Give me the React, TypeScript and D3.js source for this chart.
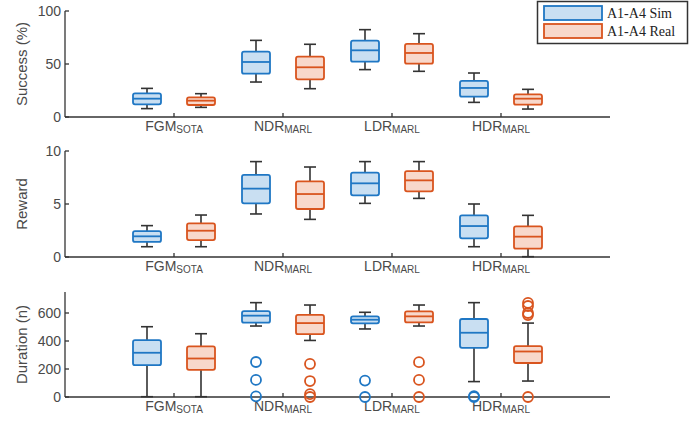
import React from 'react';
import * as d3 from 'd3';

// categories: [main, subscript]
const categories: [string, string][] = [
  ['FGM', 'SOTA'],
  ['NDR', 'MARL'],
  ['LDR', 'MARL'],
  ['HDR', 'MARL'],
];

// box stats per category: [lowWhisker, q1, median, q3, highWhisker]
const successSim = [[7.9, 12, 17.3, 22.3, 27], [33, 40.9, 51.9, 61.6, 72.3], [44.7, 52.2, 62.9, 72, 82.4], [13.8, 19.2, 27.4, 34, 41.5]];
const successReal = [[9.1, 11.3, 15.4, 18.5, 22], [26.7, 35.5, 46.9, 56.9, 68.6], [43.1, 50.3, 60.4, 68.9, 78.6], [7.5, 11.6, 17.3, 21.4, 26.1]];

const rewardSim = [[0.97, 1.42, 1.95, 2.45, 2.96], [4.06, 5.06, 6.45, 7.74, 9.0], [5.06, 5.82, 6.95, 7.96, 9.0], [0.97, 1.76, 2.92, 3.93, 5.0]];
const rewardReal = [[0.97, 1.6, 2.48, 3.18, 3.96], [3.55, 4.53, 5.94, 7.14, 8.49], [5.53, 6.2, 7.23, 8.1, 9.0], [0.03, 0.79, 1.92, 2.89, 3.93]];

const durationSim = [[2, 227, 316, 406, 502], [507, 531, 581, 614, 674], [486, 526, 552, 576, 605], [110, 351, 459, 557, 674]];
const durationReal = [[2, 194, 275, 361, 452], [404, 449, 528, 586, 657], [507, 533, 576, 612, 657], [114, 243, 325, 364, 528]];
const durationSimOut = [[], [250, 122, 5], [117, 0], [6, 0]];
const durationRealOut = [[], [236, 114, 20, 0], [249, 122, 0], [672, 650, 600, 585, 0]];

const successTicks = [0, 50, 100];
const rewardTicks = [0, 5, 10];
const durationTicks = [0, 200, 400, 600];

const seriesNames = ['A1-A4 Sim', 'A1-A4 Real'];

const BLUE = '#1f77c4';
const BLUE_FILL = '#c9dff2';
const ORANGE = '#d9541e';
const ORANGE_FILL = '#f8d8cb';
const AXIS = '#333333';
const TEXT = '#4a4a4a';
const SANS = '"Liberation Sans", Arial, sans-serif';

const x = d3.scaleLinear().domain([0, 5]).range([65, 610]);
const boxW = 28;
const offset = 27;

interface PanelProps {
  label: string;
  yTop: number;
  yBottom: number;
  domainMax: number;
  ticks: number[];
  sim: number[][];
  real: number[][];
  simOut?: number[][];
  realOut?: number[][];
}

const Box: React.FC<{ cx: number; s: number[]; y: d3.ScaleLinear<number, number>; stroke: string; fill: string; out: number[] }> = ({ cx, s, y, stroke, fill, out }) => {
  const [lo, q1, med, q3, hi] = s;
  const cap = 6;
  return (
    <g>
      <line x1={cx} x2={cx} y1={y(hi)} y2={y(q3)} stroke={AXIS} strokeWidth={1.6} />
      <line x1={cx} x2={cx} y1={y(q1)} y2={y(lo)} stroke={AXIS} strokeWidth={1.6} />
      <line x1={cx - cap} x2={cx + cap} y1={y(hi)} y2={y(hi)} stroke={AXIS} strokeWidth={1.6} />
      <line x1={cx - cap} x2={cx + cap} y1={y(lo)} y2={y(lo)} stroke={AXIS} strokeWidth={1.6} />
      <rect x={cx - boxW / 2} y={y(q3)} width={boxW} height={y(q1) - y(q3)} rx={2} fill={fill} stroke={stroke} strokeWidth={1.8} />
      <line x1={cx - boxW / 2} x2={cx + boxW / 2} y1={y(med)} y2={y(med)} stroke={stroke} strokeWidth={1.8} />
      {out.map((v, i) => (
        <circle key={i} cx={cx} cy={y(v)} r={5} fill="none" stroke={stroke} strokeWidth={1.8} />
      ))}
    </g>
  );
};

const Panel: React.FC<PanelProps> = ({ label, yTop, yBottom, domainMax, ticks, sim, real, simOut, realOut }) => {
  const y = d3.scaleLinear().domain([0, domainMax]).range([yBottom, yTop]);
  const [x0, x1] = x.range();
  return (
    <g>
      {/* axes */}
      <line x1={x0} x2={x0} y1={yTop} y2={yBottom} stroke={AXIS} strokeWidth={1.3} />
      <line x1={x0} x2={x1} y1={yBottom} y2={yBottom} stroke={AXIS} strokeWidth={1.3} />
      {ticks.map((t) => (
        <g key={t}>
          <line x1={x0} x2={x0 + 4} y1={y(t)} y2={y(t)} stroke={AXIS} strokeWidth={1.3} />
          <text x={x0 - 4} y={y(t)} dy="0.35em" textAnchor="end" fontSize={14} fill={TEXT} fontFamily={SANS}>{t}</text>
        </g>
      ))}
      {categories.map((c, i) => (
        <g key={c[0]}>
          <line x1={x(i + 1)} x2={x(i + 1)} y1={yBottom} y2={yBottom - 4} stroke={AXIS} strokeWidth={1.3} />
          <text x={x(i + 1)} y={yBottom + 14} textAnchor="middle" fontSize={14} fill={TEXT} fontFamily={SANS}>
            <tspan>{c[0]}</tspan>
            <tspan fontSize={10} dy={2}>{c[1]}</tspan>
          </text>
        </g>
      ))}
      <text transform={`translate(27,${(yTop + yBottom) / 2}) rotate(-90)`} textAnchor="middle" fontSize={15} fill={TEXT} fontFamily={SANS}>{label}</text>
      {categories.map((c, i) => (
        <g key={'b' + i}>
          <Box cx={x(i + 1) - offset} s={sim[i]} y={y} stroke={BLUE} fill={BLUE_FILL} out={simOut ? simOut[i] : []} />
          <Box cx={x(i + 1) + offset} s={real[i]} y={y} stroke={ORANGE} fill={ORANGE_FILL} out={realOut ? realOut[i] : []} />
        </g>
      ))}
    </g>
  );
};

const App: React.FC = () => {
  return (
    <svg width={690} height={421} style={{ position: 'absolute', left: 0, top: 0, background: '#fff' }}>
      <Panel label="Success (%)" yTop={11} yBottom={117} domainMax={100} ticks={successTicks} sim={successSim} real={successReal} />
      <Panel label="Reward" yTop={151} yBottom={257} domainMax={10} ticks={rewardTicks} sim={rewardSim} real={rewardReal} />
      <Panel label="Duration (n)" yTop={292} yBottom={397} domainMax={750} ticks={durationTicks} sim={durationSim} real={durationReal} simOut={durationSimOut} realOut={durationRealOut} />
      {/* legend */}
      <g>
        <rect x={537.5} y={1.5} width={150} height={42} fill="#fff" stroke="#333" strokeWidth={1.5} />
        {seriesNames.map((n, i) => (
          <g key={n}>
            <rect x={544} y={6 + i * 18} width={58} height={14} fill={i === 0 ? BLUE_FILL : ORANGE_FILL} stroke={i === 0 ? BLUE : ORANGE} strokeWidth={1.8} />
            <text x={607} y={13 + i * 18} dy="0.35em" fontSize={14} fill="#222" fontFamily='"Liberation Serif", "Times New Roman", serif'>{n}</text>
          </g>
        ))}
      </g>
    </svg>
  );
};

export default App;
